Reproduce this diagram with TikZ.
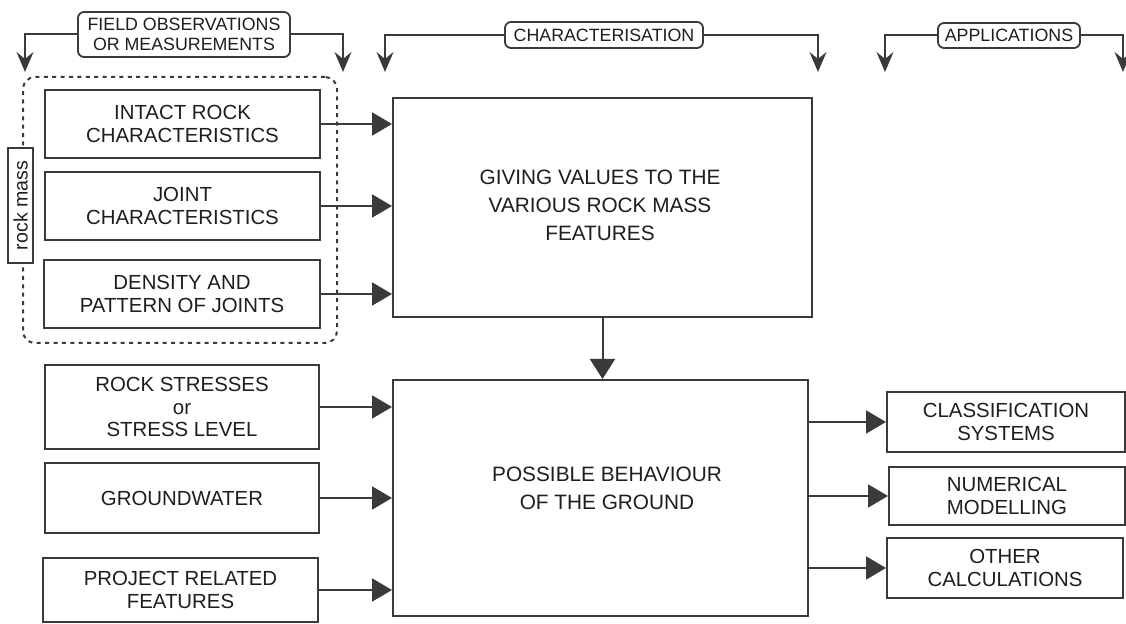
\documentclass[tikz,border=0pt]{standalone}
\usepackage{fontspec}
\setmainfont{Liberation Sans}
\usetikzlibrary{arrows.meta}
\definecolor{ln}{HTML}{3A3A3A}
\definecolor{tx}{HTML}{1E1E1E}
\begin{document}
\begin{tikzpicture}[x=0.5pt,y=-0.5pt,
  box/.style={draw=ln, line width=1pt, fill=white, text=tx, align=center, inner sep=0pt,
    font=\fontsize{10.2}{11.1}\selectfont},
  bigbox/.style={box},
  bigtext/.style={text=tx, align=center, font=\fontsize{10.4}{14}\selectfont},
  hdr/.style={draw=ln, line width=0.9pt, rounded corners=3pt, fill=white, text=tx, align=center,
    inner sep=0pt, font=\fontsize{8.9}{10}\selectfont},
  arr/.style={draw=ln, line width=1pt, -{Triangle[length=10pt,width=11.5pt]}},
  harr/.style={draw=ln, line width=1pt, -{Stealth[length=10pt,width=8.5pt,inset=3.5pt]}},
  grp/.style={draw=ln, line width=1pt, dash pattern=on 2pt off 2.2pt, rounded corners=6pt}]
\useasboundingbox (0,0) rectangle (1126,624);

% dashed group and its label
\node[grp, minimum width=157pt, minimum height=133pt] (grp) at (180,210) {};
\node[box, rotate=90, minimum width=57.5pt, minimum height=12.5pt,
  font=\fontsize{9.8}{10}\selectfont] (rm) at (20.5,205.5) {rock mass};

% left boxes
\node[box, minimum width=137.5pt, minimum height=34pt] (intact) at (182.5,124) {INTACT ROCK\\CHARACTERISTICS};
\node[box, minimum width=137.5pt, minimum height=34pt] (joint) at (182.5,206) {JOINT\\CHARACTERISTICS};
\node[box, minimum width=138pt, minimum height=34pt] (dens) at (182,294) {DENSITY AND\\PATTERN OF JOINTS};
\node[box, minimum width=137pt, minimum height=42pt] (stress) at (182,407) {ROCK STRESSES\\or\\STRESS LEVEL};
\node[box, minimum width=137pt, minimum height=35pt] (ground) at (182,498) {GROUNDWATER};
\node[box, minimum width=137.5pt, minimum height=32pt] (proj) at (180.5,590) {PROJECT RELATED\\FEATURES};

% central boxes
\node[bigbox, minimum width=209.5pt, minimum height=109.5pt] (values) at (602.5,207.5) {};
\node[bigtext] (valtxt) at (600,205) {GIVING VALUES TO THE\\VARIOUS ROCK MASS\\FEATURES};
\node[bigbox, minimum width=207.5pt, minimum height=118pt] (behav) at (600.5,498) {};
\node[bigtext] (behtxt) at (607,488) {POSSIBLE BEHAVIOUR\\OF THE GROUND};

% right boxes
\node[box, minimum width=119pt, minimum height=30pt] (classif) at (1006,422) {CLASSIFICATION\\SYSTEMS};
\node[box, minimum width=118pt, minimum height=29pt] (numer) at (1007,496) {NUMERICAL\\MODELLING};
\node[box, minimum width=118pt, minimum height=30pt] (other) at (1005,568) {OTHER\\CALCULATIONS};

% headers
\node[hdr, minimum width=106pt, minimum height=22.5pt] (field) at (184,34.5) {FIELD OBSERVATIONS\\OR MEASUREMENTS};
\node[hdr, minimum width=99pt, minimum height=13pt] (charac) at (604,35) {CHARACTERISATION};
\node[hdr, minimum width=71pt, minimum height=12.5pt] (appl) at (1009,35.5) {APPLICATIONS};

\coordinate (fl) at (25,72);
\coordinate (fr) at (343,72);
\coordinate (cl) at (385,72);
\coordinate (cr) at (818,72);
\coordinate (al) at (885,72);
\coordinate (ar) at (1123,72);
\draw[harr] (field.west) -| (fl);
\draw[harr] (field.east) -| (fr);
\draw[harr] (charac.west) -| (cl);
\draw[harr] (charac.east) -| (cr);
\draw[harr] (appl.west) -| (al);
\draw[harr] (appl.east) -| (ar);

% connectors
\draw[arr] (intact.east) -- (intact.east -| values.west);
\draw[arr] (joint.east) -- (joint.east -| values.west);
\draw[arr] (dens.east) -- (dens.east -| values.west);
\draw[arr] (stress.east) -- (stress.east -| behav.west);
\draw[arr] (ground.east) -- (ground.east -| behav.west);
\draw[arr] (proj.east) -- (proj.east -| behav.west);
\draw[arr, -{Triangle[length=10pt,width=12.5pt]}] (values.south) -- (values.south |- behav.north);
\draw[arr] (behav.east |- classif.west) -- (classif.west);
\draw[arr] (behav.east |- numer.west) -- (numer.west);
\draw[arr] (behav.east |- other.west) -- (other.west);
\end{tikzpicture}
\end{document}
